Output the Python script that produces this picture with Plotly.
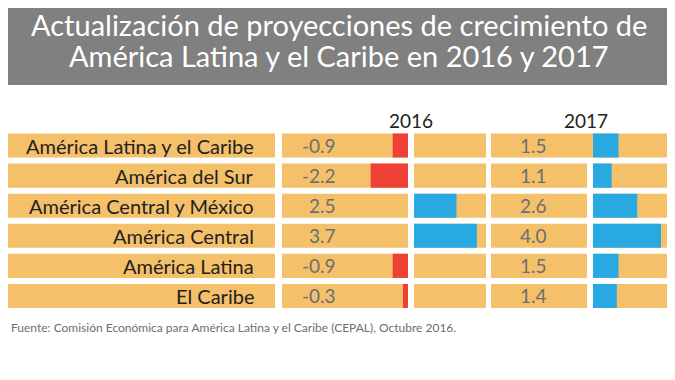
import plotly.graph_objects as go

# ---------------- data ----------------
regions = [
    "América Latina y el Caribe",
    "América del Sur",
    "América Central y México",
    "América Central",
    "América Latina",
    "El Caribe",
]
growth_2016 = [-0.9, -2.2, 2.5, 3.7, -0.9, -0.3]
growth_2017 = [1.5, 1.1, 2.6, 4.0, 1.5, 1.4]
year_labels = ["2016", "2017"]

title_lines = [
    "Actualización de proyecciones de crecimiento de",
    "América Latina y el Caribe en 2016 y 2017",
]
source_text = "Fuente: Comisión Económica para América Latina y el Caribe (CEPAL), Octubre 2016."

# ---------------- style ----------------
PAGE_W, PAGE_H = 675, 380
OFF = 8                      # default page body margin
W, H = PAGE_W - OFF, PAGE_H - OFF
ORANGE = "#F5C06A"
RED = "#EF4136"
BLUE = "#29A9E1"
GREY_BAND = "#808080"
DARK = "#231F20"
VAL_GREY = "#6D6E71"
FONT = "Lato, Open Sans, sans-serif"
PX_PER_UNIT = 17.0


def px(x):
    """page x pixel -> paper fraction"""
    return (x - OFF) / W


def py(y):
    """page y pixel -> paper fraction"""
    return 1 - (y - OFF) / H


fig = go.Figure()

# 2016 negative bars (extend left from the value column edge)
fig.add_trace(go.Bar(
    y=regions, x=[v if v < 0 else None for v in growth_2016],
    orientation="h", xaxis="x", yaxis="y", width=0.8,
    marker=dict(color=RED, line=dict(width=0)), hoverinfo="skip",
))
# 2016 positive bars
fig.add_trace(go.Bar(
    y=regions, x=[v if v > 0 else None for v in growth_2016],
    orientation="h", xaxis="x2", yaxis="y", width=0.8,
    marker=dict(color=BLUE, line=dict(width=0)), hoverinfo="skip",
))
# 2017 bars
fig.add_trace(go.Bar(
    y=regions, x=growth_2017,
    orientation="h", xaxis="x3", yaxis="y", width=0.8,
    marker=dict(color=[BLUE if v >= 0 else RED for v in growth_2017], line=dict(width=0)),
    hoverinfo="skip",
))

shapes = [
    dict(type="rect", xref="paper", yref="paper", x0=0, x1=1, y0=py(85), y1=1,
         fillcolor=GREY_BAND, line=dict(width=0), layer="below"),
]
# orange row backgrounds
for i, _ in enumerate(regions):
    boxes = [(OFF, 275), (282, 408), (414, 486)]
    if i == 0:
        boxes += [(491, 593), (593, PAGE_W)]
    else:
        boxes += [(491, 587), (593, PAGE_W)]
    for x0, x1 in boxes:
        shapes.append(dict(type="rect", xref="paper", yref="y",
                           x0=px(x0), x1=px(x1), y0=i - 0.4, y1=i + 0.4,
                           fillcolor=ORANGE, line=dict(width=0), layer="below"))

annotations = []
# title
for line, yc in zip(title_lines, [25, 55]):
    annotations.append(dict(text=line, xref="paper", yref="paper", x=px(339), y=py(yc),
                            xanchor="center", yanchor="middle", showarrow=False,
                            font=dict(family=FONT, size=29, color="white")))
# year headers
for lab, xc in zip(year_labels, [411, 586]):
    annotations.append(dict(text=lab, xref="paper", yref="paper", x=px(xc), y=py(121),
                            xanchor="center", yanchor="middle", showarrow=False,
                            font=dict(family=FONT, size=19, color=DARK)))
# row labels and values
for name, v16, v17 in zip(regions, growth_2016, growth_2017):
    annotations.append(dict(text=name, xref="paper", yref="y", x=px(256), y=name,
                            xanchor="right", yanchor="middle", showarrow=False,
                            font=dict(family=FONT, size=20, color=DARK)))
    annotations.append(dict(text=f"{v16:.1f}", xref="paper", yref="y", x=px(338), y=name,
                            xanchor="right", yanchor="middle", showarrow=False,
                            font=dict(family=FONT, size=19, color=VAL_GREY)))
    annotations.append(dict(text=f"{v17:.1f}", xref="paper", yref="y", x=px(549), y=name,
                            xanchor="right", yanchor="middle", showarrow=False,
                            font=dict(family=FONT, size=19, color=VAL_GREY)))
# source
annotations.append(dict(text=source_text, xref="paper", yref="paper", x=px(9), y=py(327),
                        xanchor="left", yanchor="middle", showarrow=False,
                        font=dict(family=FONT, size=12, color=VAL_GREY)))

fig.update_layout(
    width=W, height=H,
    margin=dict(l=0, r=0, t=0, b=0),
    paper_bgcolor="white", plot_bgcolor="rgba(0,0,0,0)",
    showlegend=False, barmode="overlay",
    xaxis=dict(domain=[px(282), px(408)], range=[-(408 - 282) / PX_PER_UNIT, 0],
               visible=False, fixedrange=True, anchor="y"),
    xaxis2=dict(domain=[px(414), px(486)], range=[0, (486 - 414) / PX_PER_UNIT],
                visible=False, fixedrange=True, anchor="y"),
    xaxis3=dict(domain=[px(593), 1], range=[0, (PAGE_W - 593) / PX_PER_UNIT],
                visible=False, fixedrange=True, anchor="y"),
    yaxis=dict(domain=[py(311), py(130.5)], type="category",
               categoryorder="array", categoryarray=regions,
               range=[len(regions) - 0.5, -0.5], visible=False, fixedrange=True),
    shapes=shapes,
    annotations=annotations,
)

fig.write_html("out.html")
